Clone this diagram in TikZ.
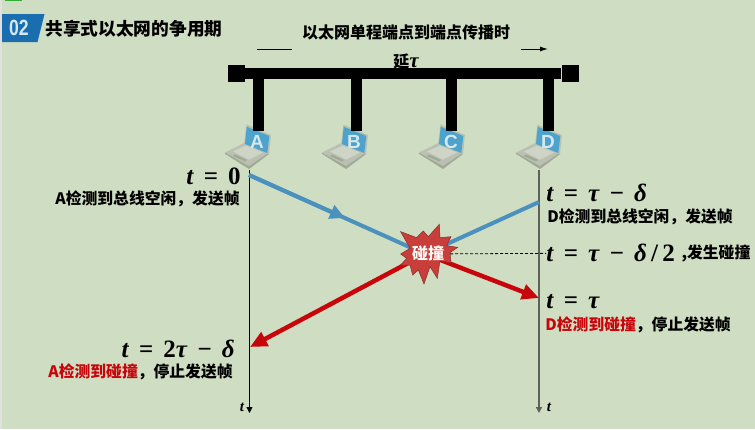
\documentclass[tikz,border=0pt]{standalone}
\usepackage{fontspec}
\usepackage{xcolor}
\usepackage{tikz}
\usetikzlibrary{positioning, arrows.meta}
\setmainfont{Noto Sans CJK SC}
\setsansfont{Liberation Sans}
\newfontfamily\eqfont{Liberation Serif}[WordSpace=1.6]

\definecolor{pagebg}{RGB}{207,221,194}
\definecolor{sigblue}{RGB}{75,145,190}
\definecolor{sigred}{RGB}{200,5,10}
\definecolor{badgeblue}{RGB}{26,110,175}
\definecolor{screenblue}{RGB}{78,163,204}
\definecolor{crashred}{RGB}{200,62,58}
\definecolor{lapgray}{RGB}{186,192,178}
\definecolor{lapedge}{RGB}{160,168,150}
\definecolor{lapkey}{RGB}{206,212,198}
\definecolor{lapletterc}{RGB}{212,232,238}

\tikzset{
  term/.style={fill=black, minimum size=17pt, inner sep=0pt},
  bus/.style={line width=11pt},
  lapletter/.style={text=lapletterc, font=\sffamily\bfseries\fontsize{19}{19}\selectfont, minimum height=21pt, inner sep=0pt},
  timeline/.style={-{Triangle[length=6pt,width=6pt]}},
  sigb/.style={draw=sigblue, line width=4pt},
  sigr/.style={draw=sigred, line width=4.5pt, -{Triangle[length=17pt,width=15pt]}},
  mathlab/.style={font=\eqfont\bfseries\fontsize{25}{27}\selectfont, inner sep=0pt},
  capt/.style={font=\bfseries\fontsize{15.8}{18}\selectfont, inner sep=0pt},
  tlab/.style={font=\eqfont\bfseries\itshape\fontsize{15}{16}\selectfont, inner sep=0pt},
}
\newcommand{\hot}[1]{\textcolor{sigred}{#1}}
\newcommand{\vv}[1]{\textit{#1}}

\begin{document}
\begin{tikzpicture}[x=1pt,y=-1pt,thick]
  \useasboundingbox (0,0) rectangle (755,429);
  \fill[pagebg] (0,0) rectangle (755,429);
  \fill[black!12] (0,0) rectangle (1.5,429);
  \fill[green!60!black!80] (5,0) rectangle (22,1);

  % heading
  \fill[badgeblue] (2,14) -- (44.5,14) -- (37.5,42) -- (2,42) -- cycle;
  \node[text=lapletterc, font=\sffamily\bfseries\fontsize{22}{22}\selectfont, inner sep=0pt, xscale=0.8, transform shape] (badge) at (19,28) {02};
  \node[font=\bfseries\fontsize{17.7}{20}\selectfont, inner sep=0pt, anchor=west] (title) at (45,29) {共享式以太网的争用期};

  % span of the bus
  \node[align=center, font=\bfseries\fontsize{16}{29}\selectfont, inner sep=0pt] (span) at (406,47) {以太网单程端点到端点传播时\\延{\eqfont\itshape\fontsize{21}{29}\selectfont τ}};
  \coordinate (spanLa) at (257,49);
  \coordinate (spanLb) at (292,49);
  \coordinate (spanRa) at (521,49);
  \coordinate (spanRb) at (548,49);
  \draw[line width=1pt] (spanLa) -- (spanLb);
  \draw[line width=1pt, -{Latex[length=8pt,width=5pt]}] (spanRa) -- (spanRb);

  \node[term] (termL) at (236.5,73.5) {};
  \node[term] (termR) at (570,73.5) {};
  \draw[bus] (termL) -- (termR);

  % stations
  \foreach \lab/\dx [count=\i from 0] in {A/1,B/2,C/0,D/0} {
    \begin{scope}[shift={(257+97*\i,142)}]
      \fill[lapedge] (-32.5,11.5) -- (-13,2) -- (12,12) -- (-8,27) -- cycle;
      \fill[lapgray] (-32,10.5) -- (-13,1) -- (12,10.5) -- (-8,24) -- cycle;
      \fill[lapkey] (-24,9.5) -- (-11,3.5) -- (6,10.5) -- (-8,17.5) -- cycle;
      \fill[lapedge] (-24,14) -- (-12,19.5) -- (-10,18) -- (-22,12.5) -- cycle;
      \fill[lapgray] (-10.5,-17.5) -- (14,-7) -- (12,12) -- (-13,2.5) -- cycle;
      \fill[screenblue] (-10.3,-15.3) -- (12.3,-6) -- (10.3,11) -- (-12,2) -- cycle;
      \node[lapletter] (lap\lab) at (0,0) {\lab};
    \end{scope}
    \draw[line width=11pt] ([xshift=\dx pt]lap\lab.north |- termL) -- ([xshift=\dx pt]lap\lab.north);
  }

  % time axes
  \coordinate (axisAa) at (249.5,170);
  \coordinate (axisAb) at (249.5,413);
  \coordinate (axisDa) at (539,170);
  \coordinate (axisDb) at (539,413);
  \draw[timeline, line width=0.8pt] (axisAa) -- (axisAb);
  \draw[timeline, line width=1.5pt, black!55!pagebg] (axisDa) -- (axisDb);
  \node[tlab] (tA) at (242,407) {t};
  \node[tlab] (tD) at (549,407) {t};

  % labels
  \node[mathlab, anchor=east] (tZero) at (241,176) {\vv{t} = 0};
  \node[capt, anchor=east] (capA) at (240,199) {A检测到总线空闲，发送帧};
  \node[mathlab, anchor=west] (tOne) at (546,193) {\vv{t} = \vv{τ} − \vv{δ}};
  \node[capt, anchor=west] (capD) at (547,217) {D检测到总线空闲，发送帧};
  \node[mathlab, anchor=west] (tHalf) at (546,253) {\vv{t} = \vv{τ} − \vv{δ}\,/\,2};
  \node[capt, anchor=west] (capHalf) [right=6pt of tHalf] {,发生碰撞};
  \node[mathlab, anchor=west] (tTau) at (546,302) {\vv{t} = \vv{τ}};
  \node[capt, anchor=west] (capTau) at (545,325) {\hot{D检测到碰撞}，停止发送帧};
  \node[mathlab, anchor=east] (tTwo) at (235,349) {\vv{t} = 2\vv{τ} − \vv{δ}};
  \node[capt, anchor=east] (capTwo) at (233,372) {\hot{A检测到碰撞}，停止发送帧};

  % signals
  \coordinate (crash) at (425,254);
  \coordinate (sendA) at (249,175);
  \coordinate (midA) at (345,218);
  \coordinate (sendD) at (539,202);
  \coordinate (hitA) at (250,347);
  \coordinate (hitD) at (539,298);
  \draw[sigb] (sendA) -- (crash);
  \draw[sigb, -{Triangle[length=15pt,width=14pt]}] (sendA) -- (midA);
  \draw[sigb] (sendD) -- (crash);
  \draw[sigr] (crash) -- (hitA);
  \draw[sigr] (crash) -- (hitD);
  \draw[line width=0.8pt, dash pattern=on 3pt off 2pt] (crash) -- (tHalf);

  \fill[crashred, draw=crashred!70!black, line width=0.5pt, shift={(375,215)}, x=0.3333pt, y=-0.3333pt]
    (77,50) -- (125,68) -- (145,48) -- (160,65) -- (193,28) -- (195,68) -- (228,65) -- (215,92)
    -- (248,97) -- (225,113) -- (228,143) -- (195,137) -- (187,190) -- (165,155) -- (147,207)
    -- (130,165) -- (113,180) -- (105,150) -- (77,150) -- (95,130) -- (77,117) -- (105,100) -- cycle;
  \node[text=white!85!pagebg, font=\bfseries\fontsize{16}{18}\selectfont, inner sep=0pt] (crashlab) at (428,253) {碰撞};
\end{tikzpicture}
\end{document}
